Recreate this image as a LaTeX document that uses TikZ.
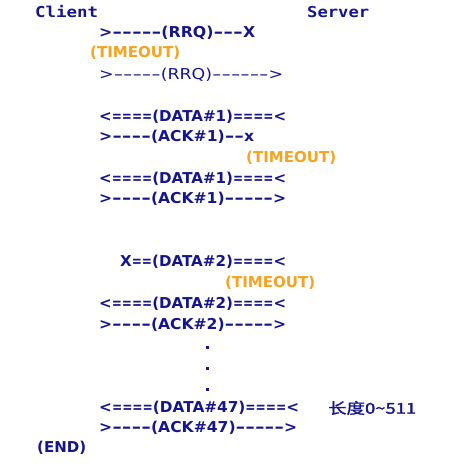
\documentclass[tikz,border=0pt]{standalone}
\usepackage{fontspec}
\setmainfont{DejaVu Sans}
\setmonofont{DejaVu Sans Mono}
\newfontfamily\cjk{Noto Sans CJK SC}[FakeBold=1.5]
\usepackage{graphicx}
\definecolor{navy}{RGB}{22,22,140}
\definecolor{tout}{RGB}{246,163,32}
\newcommand{\fitw}[2]{\resizebox{#1pt}{\height}{#2}}
\newcommand{\hy}{\scalebox{1.5}[1]{-}}
\newcommand{\eq}{\scalebox{0.8}[1]{=}}
\tikzset{
  line/.style={anchor=west, inner sep=0pt, text=navy, font=\fontsize{15}{17}\selectfont\bfseries},
  thin/.style={anchor=west, inner sep=0pt, text=navy, font=\fontsize{15}{17}\selectfont},
  head/.style={anchor=west, inner sep=0pt, text=navy, font=\fontsize{15}{17}\selectfont\ttfamily\bfseries},
  tmo/.style={anchor=west, inner sep=0pt, text=tout, font=\fontsize{15}{17}\selectfont\bfseries},
  dotbox/.style={inner sep=0pt, minimum size=3pt, fill=navy, draw=none}
}
\begin{document}
\begin{tikzpicture}[x=1pt,y=1pt]
\useasboundingbox[fill=white] (0,0) rectangle (457,475);
\node[head] (client) at (35,463) {\fitw{63}{Client}};
\node[head] (server) at (307,463) {\fitw{62}{Server}};
\node[line] (l1) at (99,442) {\fitw{156}{>\hy\hy\hy\hy\hy(RRQ)\hy\hy\hy X}};
\node[tmo] (t1) at (90,422) {\fitw{90}{(TIMEOUT)}};
\node[thin] (l2) at (99,400) {\fitw{184}{>\hy\hy\hy\hy\hy(RRQ)\hy\hy\hy\hy\hy\hy>}};
\node[line] (l3) at (99,358) {\fitw{187}{<\eq\eq\eq\eq(DATA\#1)\eq\eq\eq\eq<}};
\node[line] (l4) at (99,338) {\fitw{155}{>\hy\hy\hy\hy(ACK\#1)\hy\hy x}};
\node[tmo] (t2) at (246,317) {\fitw{90}{(TIMEOUT)}};
\node[line] (l5) at (99,296) {\fitw{187}{<\eq\eq\eq\eq(DATA\#1)\eq\eq\eq\eq<}};
\node[line] (l6) at (99,276) {\fitw{187}{>\hy\hy\hy\hy(ACK\#1)\hy\hy\hy\hy\hy>}};
\node[line] (l7) at (120,213) {\fitw{166}{X\eq\eq(DATA\#2)\eq\eq\eq\eq<}};
\node[tmo] (t3) at (225,192) {\fitw{90}{(TIMEOUT)}};
\node[line] (l8) at (99,171) {\fitw{187}{<\eq\eq\eq\eq(DATA\#2)\eq\eq\eq\eq<}};
\node[line] (l9) at (99,150) {\fitw{187}{>\hy\hy\hy\hy(ACK\#2)\hy\hy\hy\hy\hy>}};
\node[dotbox] (d1) at (207,127) {};
\node[dotbox] (d2) at (207,106) {};
\node[dotbox] (d3) at (207,85) {};
\node[line] (l10) at (99,67) {\fitw{200}{<\eq\eq\eq\eq(DATA\#47)\eq\eq\eq\eq<}};
\node[anchor=west, inner sep=0pt, text=navy, font=\fontsize{15}{17}\selectfont\cjk] (note) at (328,67) {\fitw{88}{长度0\textasciitilde511}};
\node[line] (l11) at (99,47) {\fitw{198}{>\hy\hy\hy\hy(ACK\#47)\hy\hy\hy\hy\hy>}};
\node[line] (endn) at (37,27) {\fitw{49}{(END)}};
\end{tikzpicture}
\end{document}
